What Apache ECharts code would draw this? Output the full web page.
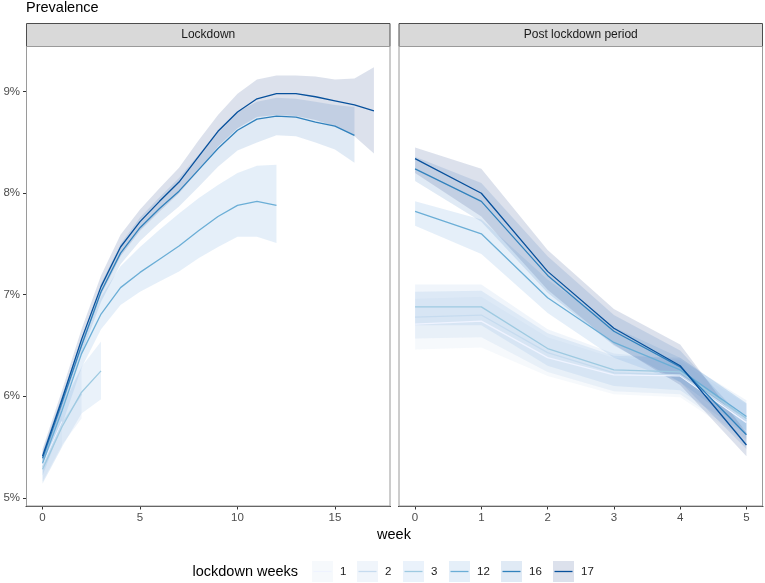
<!DOCTYPE html>
<html><head><meta charset="utf-8">
<script src="https://cdn.jsdelivr.net/npm/echarts@6/dist/echarts.min.js"></script>
<style>html,body{margin:0;padding:0;background:#fff}#c{width:765px;height:583px}</style>
</head><body><div id="c"></div>
<script>
// ---------------- data ----------------
const groups = ['1', '2', '3', '12', '16', '17'];
const panelTitles = ['Lockdown', 'Post lockdown period'];
const xTicksLockdown = [0, 5, 10, 15];
const xTicksPost = [0, 1, 2, 3, 4, 5];
const yTicks = [5, 6, 7, 8, 9];

// Lockdown panel (x = week 0..n), prevalence in %
const ld1 = [5.32, 5.75];
const ld1Lo = [5.14, 5.50];
const ld1Hi = [5.48, 5.99];
const ld2 = [5.30, 5.73, 6.02];
const ld2Lo = [5.16, 5.52, 5.78];
const ld2Hi = [5.42, 5.93, 6.28];
const ld3 = [5.28, 5.70, 6.04, 6.25];
const ld3Lo = [5.14, 5.50, 5.83, 5.97];
const ld3Hi = [5.40, 5.88, 6.29, 6.54];
const ld12 = [5.34, 5.86, 6.42, 6.81, 7.07, 7.22, 7.35, 7.48, 7.63, 7.77, 7.88, 7.92, 7.88];
const ld12Lo = [5.22, 5.72, 6.28, 6.66, 6.90, 7.03, 7.13, 7.23, 7.36, 7.47, 7.57, 7.57, 7.51];
const ld12Hi = [5.45, 6.00, 6.56, 6.98, 7.28, 7.47, 7.64, 7.80, 7.95, 8.08, 8.20, 8.27, 8.28];
const ld16 = [5.39, 5.94, 6.50, 7.03, 7.41, 7.66, 7.85, 8.02, 8.23, 8.44, 8.62, 8.73, 8.76, 8.75, 8.70, 8.66, 8.57];
const ld16Lo = [5.33, 5.87, 6.42, 6.93, 7.30, 7.53, 7.71, 7.87, 8.06, 8.26, 8.42, 8.50, 8.57, 8.56, 8.50, 8.43, 8.30];
const ld16Hi = [5.44, 6.00, 6.57, 7.11, 7.50, 7.76, 7.96, 8.15, 8.38, 8.62, 8.80, 8.90, 8.94, 8.93, 8.90, 8.87, 8.85];
const ld17 = [5.41, 5.97, 6.56, 7.08, 7.47, 7.72, 7.92, 8.11, 8.36, 8.61, 8.80, 8.93, 8.98, 8.98, 8.95, 8.91, 8.87, 8.81];
const ld17Lo = [5.35, 5.90, 6.48, 7.00, 7.38, 7.63, 7.82, 8.00, 8.22, 8.46, 8.64, 8.75, 8.77, 8.76, 8.72, 8.66, 8.56, 8.39];
const ld17Hi = [5.48, 6.06, 6.66, 7.19, 7.59, 7.84, 8.05, 8.25, 8.52, 8.77, 8.98, 9.12, 9.16, 9.16, 9.15, 9.12, 9.13, 9.24];

// Post lockdown panel (x = week 0..5)
const pl1 = [6.71, 6.74, 6.38, 6.21, 6.20, 5.74];
const pl1Lo = [6.46, 6.48, 6.20, 6.02, 5.99, 5.56];
const pl1Hi = [6.96, 6.98, 6.58, 6.38, 6.34, 5.92];
const pl2 = [6.78, 6.80, 6.43, 6.23, 6.21, 5.76];
const pl2Lo = [6.57, 6.58, 6.24, 6.05, 6.02, 5.58];
const pl2Hi = [7.10, 7.10, 6.66, 6.42, 6.36, 5.96];
const pl3 = [6.88, 6.88, 6.47, 6.26, 6.24, 5.78];
const pl3Lo = [6.70, 6.70, 6.30, 6.10, 6.06, 5.62];
const pl3Hi = [7.03, 7.04, 6.62, 6.40, 6.38, 5.93];
const pl12 = [7.82, 7.60, 6.97, 6.53, 6.26, 5.80];
const pl12Lo = [7.68, 7.40, 6.82, 6.38, 6.14, 5.66];
const pl12Hi = [7.92, 7.74, 7.15, 6.68, 6.38, 5.93];
const pl16 = [8.24, 7.92, 7.19, 6.64, 6.29, 5.62];
const pl16Lo = [8.12, 7.72, 7.02, 6.50, 6.14, 5.48];
const pl16Hi = [8.36, 8.10, 7.38, 6.80, 6.45, 5.74];
const pl17 = [8.34, 8.00, 7.23, 6.67, 6.30, 5.52];
const pl17Lo = [8.20, 7.77, 7.05, 6.51, 6.11, 5.41];
const pl17Hi = [8.45, 8.24, 7.44, 6.86, 6.51, 5.64];

// ---------------- styles ----------------
const lineColors = ['#eff3ff', '#c6dbef', '#9ecae1', '#6baed6', '#3182bd', '#08519c'];
const fillBase = [[205, 220, 240], [170, 200, 235], [140, 185, 230], [110, 165, 220], [85, 140, 200], [60, 90, 150]];
const fillAlpha = 0.18;
const fillColors = fillBase.map(c => `rgba(${c[0]},${c[1]},${c[2]},${fillAlpha})`);
const keyColors = fillBase.map(c => `rgb(${c.map(v => Math.round(255 - fillAlpha * (255 - v))).join(',')})`);
const FONT = '"Liberation Sans", Arial, Helvetica, sans-serif';

const panels = [
  { lines: [ld1, ld2, ld3, ld12, ld16, ld17], lo: [ld1Lo, ld2Lo, ld3Lo, ld12Lo, ld16Lo, ld17Lo], hi: [ld1Hi, ld2Hi, ld3Hi, ld12Hi, ld16Hi, ld17Hi] },
  { lines: [pl1, pl2, pl3, pl12, pl16, pl17], lo: [pl1Lo, pl2Lo, pl3Lo, pl12Lo, pl16Lo, pl17Lo], hi: [pl1Hi, pl2Hi, pl3Hi, pl12Hi, pl16Hi, pl17Hi] }
];

// layout
const PANEL_TOP = 46, PANEL_H = 460.5, PANEL_W = 364.5;
const panelLeft = [26, 398.5];
const STRIP_TOP = 23;

function ribbon(idx, gi, lo, hi) {
  const data = lo.map((v, i) => [i, v, hi[i]]);
  return {
    type: 'custom', name: groups[gi] + '_band', xAxisIndex: idx, yAxisIndex: idx,
    z: 1, silent: true, clip: true, data,
    encode: { x: 0, y: [1, 2] },
    renderItem(params, api) {
      if (params.dataIndex !== 0) return;
      const top = data.map(d => api.coord([d[0], d[2]]));
      const bot = data.map(d => api.coord([d[0], d[1]])).reverse();
      return { type: 'polygon', shape: { points: top.concat(bot) }, style: { fill: fillColors[gi], stroke: null } };
    }
  };
}
function line(idx, gi, vals) {
  return {
    type: 'line', name: groups[gi], xAxisIndex: idx, yAxisIndex: idx, z: 3,
    data: vals.map((v, i) => [i, v]), showSymbol: false, symbol: 'none', silent: true,
    lineStyle: { color: lineColors[gi], width: 1.3 }, itemStyle: { color: lineColors[gi] },
    animation: false
  };
}

const series = [];
panels.forEach((p, idx) => {
  groups.forEach((g, gi) => series.push(ribbon(idx, gi, p.lo[gi], p.hi[gi])));
  groups.forEach((g, gi) => series.push(line(idx, gi, p.lines[gi])));
});

const xTickSets = [xTicksLockdown, xTicksPost];
const xRanges = [[-0.85, 17.85], [-0.25, 5.25]];
const Y_MIN = 4.914, Y_MAX = 9.45;

const xAxis = [0, 1].map(i => ({
  type: 'value', gridIndex: i, min: xRanges[i][0], max: xRanges[i][1],
  axisLine: { show: true, onZero: false, lineStyle: { color: '#333', width: 1 } },
  axisTick: { show: true, length: 3, customValues: xTickSets[i], lineStyle: { color: '#333' } },
  axisLabel: { customValues: xTickSets[i], margin: 5, color: '#4d4d4d', fontSize: 11.5, fontFamily: FONT },
  splitLine: { show: false }
}));
const yAxis = [0, 1].map(i => ({
  type: 'value', gridIndex: i, min: Y_MIN, max: Y_MAX, position: 'left',
  axisLine: { show: false, onZero: false },
  axisTick: { show: i === 0, length: 3, customValues: yTicks, lineStyle: { color: '#333' } },
  axisLabel: { show: i === 0, customValues: yTicks, margin: 6, formatter: v => v + '%', color: '#4d4d4d', fontSize: 11.5, fontFamily: FONT },
  splitLine: { show: false }
}));
const grid = [0, 1].map(i => ({ left: panelLeft[i], top: PANEL_TOP, width: PANEL_W, height: PANEL_H }));

const graphic = [];
panelLeft.forEach((L, i) => {
  graphic.push({ type: 'rect', z: 100, silent: true,
    shape: { x: L + 0.5, y: STRIP_TOP + 0.5, width: PANEL_W - 1, height: PANEL_TOP - STRIP_TOP },
    style: { fill: '#d9d9d9', stroke: '#4d4d4d', lineWidth: 1 } });
  graphic.push({ type: 'text', z: 101, silent: true,
    style: { text: panelTitles[i], x: L + PANEL_W / 2, y: (STRIP_TOP + PANEL_TOP) / 2 + 0.5, align: 'center', verticalAlign: 'middle',
      font: `12px ${FONT}`, fill: '#1a1a1a' } });
  graphic.push({ type: 'rect', z: 100, silent: true,
    shape: { x: L + 0.5, y: PANEL_TOP + 0.5, width: PANEL_W - 1, height: PANEL_H - 1 },
    style: { fill: null, stroke: '#9a9a9a', lineWidth: 1 } });
});
graphic.push({ type: 'text', silent: true,
  style: { text: 'Prevalence', x: 26, y: 8, align: 'left', verticalAlign: 'middle', font: `14.5px ${FONT}`, fill: '#000' } });
graphic.push({ type: 'text', silent: true,
  style: { text: 'week', x: 394, y: 535, align: 'center', verticalAlign: 'middle', font: `14.5px ${FONT}`, fill: '#000' } });
graphic.push({ type: 'text', silent: true,
  style: { text: 'lockdown weeks', x: 192.5, y: 571.5, align: 'left', verticalAlign: 'middle', font: `14.5px ${FONT}`, fill: '#000' } });
const keyX = [312, 357, 403, 449, 501, 553];
groups.forEach((g, gi) => {
  const x = keyX[gi];
  graphic.push({ type: 'rect', silent: true, shape: { x: x, y: 561, width: 21, height: 21 }, style: { fill: keyColors[gi] } });
  graphic.push({ type: 'line', silent: true, shape: { x1: x + 1.5, y1: 571.5, x2: x + 19.5, y2: 571.5 }, style: { stroke: lineColors[gi], lineWidth: 1.3 } });
  graphic.push({ type: 'text', silent: true, style: { text: g, x: x + 28, y: 571.5, align: 'left', verticalAlign: 'middle', font: `11.5px ${FONT}`, fill: '#1a1a1a' } });
});

const chart = echarts.init(document.getElementById('c'), null, { renderer: 'canvas' });
chart.setOption({
  backgroundColor: '#fff',
  animation: false,
  grid, xAxis, yAxis, series, graphic
});
</script></body></html>
